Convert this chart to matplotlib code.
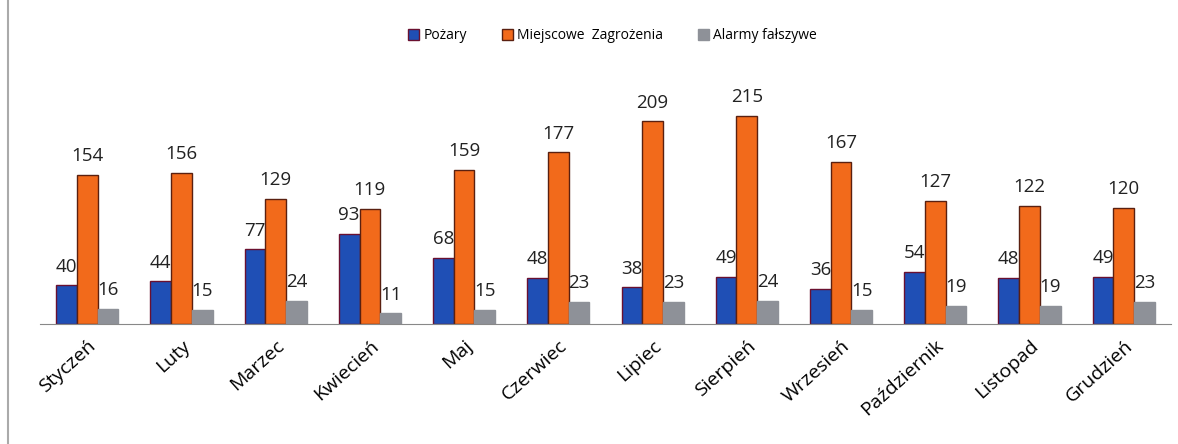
import numpy as np
import matplotlib.pyplot as plt

# data
months = ["Styczeń", "Luty", "Marzec", "Kwiecień", "Maj", "Czerwiec",
          "Lipiec", "Sierpień", "Wrzesień", "Październik", "Listopad", "Grudzień"]
pozary = [40, 44, 77, 93, 68, 48, 38, 49, 36, 54, 48, 49]
zagrozenia = [154, 156, 129, 119, 159, 177, 209, 215, 167, 127, 122, 120]
alarmy = [16, 15, 24, 11, 15, 23, 23, 24, 15, 19, 19, 23]

series_names = ["Pożary", "Miejscowe  Zagrożenia", "Alarmy fałszywe"]
colors = ["#1f4fb5", "#f26a1b", "#8e9198"]
edges = ["#6a1030", "#5a2010", "#8e9198"]

plt.rcParams['font.family'] = ['Open Sans', 'DejaVu Sans']

fig = plt.figure(figsize=(11.78, 4.44), dpi=100)
ax = fig.add_axes([0.034, 0.27, 0.96, 0.52])

x = np.arange(len(months))
w = 0.22
for i, (vals, c, ec, name) in enumerate(zip([pozary, zagrozenia, alarmy], colors, edges, series_names)):
    bars = ax.bar(x + (i - 1) * w, vals, w, color=c, edgecolor=ec, linewidth=1.0, label=name)
    for b, v in zip(bars, vals):
        ax.annotate(str(v), (b.get_x() + b.get_width() / 2, v), xytext=(0, 7),
                    textcoords="offset points", ha="center", va="bottom", fontsize=13.5, color="#222222")

ax.set_xlim(-0.5, len(months) - 0.5)
ax.set_ylim(0, 238)
ax.set_yticks([])
for s in ["top", "right", "left"]:
    ax.spines[s].set_visible(False)
ax.spines["bottom"].set_color("#888888")
ax.set_xticks(x)
ax.set_xticklabels(months, rotation=42, ha="right", rotation_mode="anchor", fontsize=14)
ax.tick_params(axis="x", length=0, pad=9)

fig.legend(loc="upper center", bbox_to_anchor=(0.52, 0.965), ncol=3, frameon=False,
           fontsize=10, handlelength=0.8, handleheight=0.8, columnspacing=2.5, handletextpad=0.3)

# left border of the scanned page
fig.add_artist(plt.Line2D([0.007, 0.007], [0, 1], color="#aaaaaa", linewidth=1.5))

fig.savefig("out.png", dpi=100)
